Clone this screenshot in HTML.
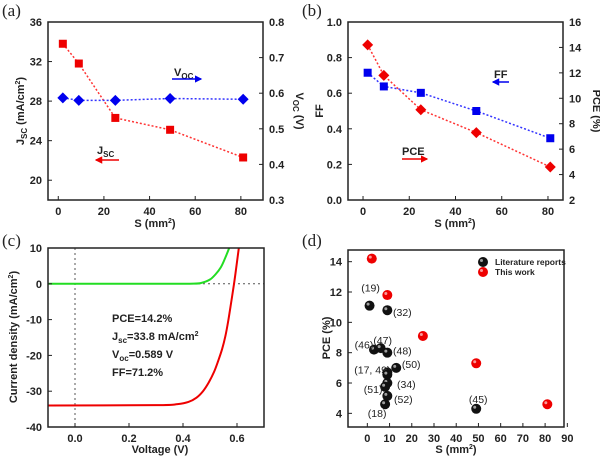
<!DOCTYPE html>
<html><head><meta charset="utf-8"><style>
body{margin:0;background:#fff;width:600px;height:460px;overflow:hidden}
svg{font-family:"Liberation Sans",sans-serif}
.t{font-size:11px;font-weight:bold;fill:#222}
.pl{font-family:"Liberation Serif",serif;font-size:17px;fill:#222}
</style></head><body>
<svg id="s" width="600" height="460">
<defs>
<marker id="ar" viewBox="0 0 6 6" refX="5" refY="3" markerWidth="5" markerHeight="5" orient="auto"><path d="M0,0L6,3L0,6z" fill="#00e"/></marker>
<marker id="arr" viewBox="0 0 6 6" refX="5" refY="3" markerWidth="5" markerHeight="5" orient="auto"><path d="M0,0L6,3L0,6z" fill="#e00"/></marker>
<clipPath id="cc"><rect x="48" y="248" width="216" height="179"/></clipPath>
</defs>
</svg>
<script>
// ---- data ----
const sizes=[2,9,25,49,81];
const jscVals=[33.8,31.8,26.3,25.1,22.3];
const vocVals=[0.587,0.580,0.580,0.585,0.583];
const ffVals=[0.715,0.638,0.602,0.50,0.347];
const pceVals=[14.2,11.8,9.1,7.3,4.6];
const redV=[-0.1,0.3,0.38,0.42,0.45,0.474,0.495,0.515,0.53,0.545,0.557,0.567,0.578,0.589,0.597,0.605,0.612];
const redJ=[-34,-33.9,-33.6,-33,-31.8,-30,-27.6,-24.6,-21.6,-18.2,-14.6,-10.6,-5.4,0,4.4,9,13];
const greenV=[-0.1,0.3,0.44,0.47,0.5,0.52,0.54,0.555,0.571,0.58];
const greenJ=[0,0,0.05,0.3,1.2,2.6,4.6,7,10,12];
const litS=[1,9,3,6,9,13,9,9,9,8,9,8,49];
const litP=[11.1,10.8,8.2,8.3,8.0,7.0,6.7,6.55,6.0,5.75,5.15,4.6,4.3];
const litLab=["(19)","(32)","(46)","(47)","(48)","(50)","(17, 49)","","(34)","(51)","(52)","(18)","(45)"];
const litDx=[1,15,-10,2,15,15,-15,0,19,-12,16,-8,2];
const litDy=[-18,2,-5,-8,-2,-4,-3,0,1,2,3,9,-10];
const tick_a_x=[0,20,40,60,80], tick_a_yl=[20,24,28,32,36], tick_a_yr=[0.3,0.4,0.5,0.6,0.7,0.8];
const tick_b_yl=[0,0.2,0.4,0.6,0.8,1.0], tick_b_yr=[2,4,6,8,10,12,14,16];
const tick_c_x=[0,0.2,0.4,0.6], tick_c_y=[-40,-30,-20,-10,0,10];
const tick_d_x=[0,10,20,30,40,50,60,70,80,90], tick_d_y=[4,6,8,10,12,14];

const S=document.getElementById('s');const NS='http://www.w3.org/2000/svg';
function el(t,a,txt,p){const e=document.createElementNS(NS,t);for(const k in a)e.setAttribute(k,a[k]);if(txt!=null)e.textContent=txt;(p||S).appendChild(e);return e;}
function sc(d0,d1,r0,r1){return v=>r0+(v-d0)/(d1-d0)*(r1-r0);}
function frame(x0,y0,x1,y1,name){const r=el('rect',{x:x0,y:y0,width:x1-x0,height:y1-y0,fill:'none',stroke:'#222','stroke-width':1.5});

}
function xt(ticks,X,y,fmt){ticks.forEach(v=>{const x=X(v);el('line',{x1:x,x2:x,y1:y,y2:y-4,stroke:'#222'});const t=el('text',{x:x,y:y+15,'text-anchor':'middle',class:'t'},fmt?fmt(v):v);

});}
function yt(ticks,Y,x,side,fmt){ticks.forEach(v=>{const y=Y(v);el('line',{x1:x,x2:x+4*side,y1:y,y2:y,stroke:'#222'});const t=el('text',{x:x-6*side,y:y+4,'text-anchor':side>0?'end':'start',class:'t'},fmt?fmt(v):v);

});}
function dline(xs,ys,X,Y,c,name){const p=el('polyline',{points:xs.map((v,i)=>X(v)+','+Y(ys[i])).join(' '),fill:'none',stroke:c,'stroke-width':1.5,'stroke-dasharray':'2,2'});

}
function sq(x,y,c){el('rect',{x:x-4,y:y-4,width:8,height:8,fill:c});}
function dia(x,y,c){el('polygon',{points:`${x},${y-5.5} ${x+5.5},${y} ${x},${y+5.5} ${x-5.5},${y}`,fill:c});}
function lbl(x,y,txt,o){return el('text',Object.assign({x:x,y:y,class:'t'},o||{}),txt);}
// rich text: parts = [[text, shift]] shift: 0 normal, 1 sub, -1 sup
function rich(x,y,parts,o){const t=lbl(x,y,'',o);let cur=0;parts.forEach(([s,sh])=>{const target=sh==1?3:sh==-1?-4:0;const a={dy:target-cur};if(sh)a['font-size']=sh==1?'8px':'7px';el('tspan',a,s,t);cur=target;});return t;}
function arrow(x1,x2,y,c){const a=el('line',{x1:x1,x2:x2,y1:y,y2:y,stroke:c,'stroke-width':1.5,'marker-end':c=='#00e'?'url(#ar)':'url(#arr)'});

}
function smooth(pts){let d='M'+pts[0][0]+','+pts[0][1];for(let i=0;i<pts.length-1;i++){const p0=pts[i-1]||pts[i],p1=pts[i],p2=pts[i+1],p3=pts[i+2]||p2;
d+=` C${p1[0]+(p2[0]-p0[0])/6},${p1[1]+(p2[1]-p0[1])/6} ${p2[0]-(p3[0]-p1[0])/6},${p2[1]-(p3[1]-p1[1])/6} ${p2[0]},${p2[1]}`;}return d;}
const SMM=[['S (mm',0],['2',-1],[')',0]];

// ---- (a) ----
{const X=sc(-4.5,89.7,48,263),YL=sc(18,36,200,22),YR=sc(0.3,0.8,200,22);
lbl(2,16,'(a)',{class:'pl'});
frame(48,22,263,200,'plot-frame-a');
xt(tick_a_x,X,200);yt(tick_a_yl,YL,48,1);yt(tick_a_yr,YR,263,-1,v=>v.toFixed(1));
dline(sizes,jscVals,X,YL,'#f33','jsc-line');dline(sizes,vocVals,X,YR,'#33f','voc-line');
sizes.forEach((s,i)=>{sq(X(s),YL(jscVals[i]),'#e00');dia(X(s),YR(vocVals[i]),'#00e')});
rich(155,227,SMM,{'text-anchor':'middle'});
rich(24,111,[['J',0],['SC',1],[' (mA/cm',0],['2',-1],[')',0]],{transform:'rotate(-90 24 111)','text-anchor':'middle'});
rich(296,111,[['V',0],['OC',1],[' (V)',0]],{transform:'rotate(90 296 111)','text-anchor':'middle'});
rich(174,76,[['V',0],['OC',1]],{fill:'#00e'});arrow(172,201,79,'#00e');
rich(97,154,[['J',0],['SC',1]],{fill:'#e00'});arrow(119,96,160,'#e00');}

// ---- (b) ----
{const X=sc(-6.5,86.5,348,563),YL=sc(0,1,200,22),YR=sc(2,16,200,22);
lbl(302,16,'(b)',{class:'pl'});
frame(348,22,563,200,'plot-frame-b');
xt(tick_a_x,X,200);yt(tick_b_yl,YL,348,1,v=>v.toFixed(1));yt(tick_b_yr,YR,563,-1);
dline(sizes,ffVals,X,YL,'#33f','ff-line');dline(sizes,pceVals,X,YR,'#f33','pce-line');
sizes.forEach((s,i)=>{sq(X(s),YL(ffVals[i]),'#00e');dia(X(s),YR(pceVals[i]),'#e00')});
rich(455,227,SMM,{'text-anchor':'middle'});
lbl(323,111,'FF',{transform:'rotate(-90 323 111)','text-anchor':'middle'});
lbl(593,111,'PCE (%)',{transform:'rotate(90 593 111)','text-anchor':'middle'});
lbl(494,78,'FF',{fill:'#00e'});arrow(509,493,82,'#00e');
lbl(402,155,'PCE',{fill:'#e00'});arrow(402,427,159,'#e00');}

// ---- (c) ----
{const X=sc(-0.1,0.7,48,264),Y=sc(-40,10,427,248);
lbl(2,246,'(c)',{class:'pl'});
el('line',{x1:X(0),x2:X(0),y1:248,y2:427,stroke:'#555','stroke-dasharray':'2,3'});
el('line',{x1:48,x2:264,y1:Y(0),y2:Y(0),stroke:'#555','stroke-dasharray':'2,3'});
const cv=(vs,js,c,n)=>{const p=el('path',{d:smooth(vs.map((v,i)=>[X(v),Y(js[i])])),fill:'none',stroke:c,'stroke-width':2,'clip-path':'url(#cc)'});

};
cv(greenV,greenJ,'#2d2','dark-curve');cv(redV,redJ,'#e00','light-curve');
frame(48,248,264,427,'plot-frame-c');
xt(tick_c_x,X,427,v=>v.toFixed(1));yt(tick_c_y,Y,48,1);
lbl(160,453,'Voltage (V)',{'text-anchor':'middle'});
rich(17,337,[['Current density (mA/cm',0],['2',-1],[')',0]],{transform:'rotate(-90 17 337)','text-anchor':'middle'});
lbl(112,322,'PCE=14.2%');
rich(112,340,[['J',0],['sc',1],['=33.8 mA/cm',0],['2',-1]]);
rich(112,358,[['V',0],['oc',1],['=0.589 V',0]]);
lbl(112,376,'FF=71.2%');}

// ---- (d) ----
{const X=sc(-8.7,88.5,348,564),Y=sc(3.1,14.77,427,250);
lbl(302,246,'(d)',{class:'pl'});
frame(348,250,564,427,'plot-frame-d');
xt(tick_d_x,X,427);yt(tick_d_y,Y,348,1);
const ball=(x,y,c,n)=>{const b=el('circle',{cx:x,cy:y,r:5,fill:c});


el('circle',{cx:x-1.5,cy:y-1.5,r:1.5,fill:'#fff',opacity:0.6});};
litS.forEach((s,i)=>{ball(X(s),Y(litP[i]),'#111','literature-point');if(litLab[i])el('text',{x:X(s)+litDx[i],y:Y(litP[i])+litDy[i]+4,'text-anchor':'middle','font-size':'10.5px',fill:'#222'},litLab[i]);});
sizes.forEach((s,i)=>ball(X(s),Y(pceVals[i]),'#e00','this-work-point'));
ball(483,262,'#111','legend-marker');lbl(495,265,'Literature reports',{style:'font-size:8.5px'});
ball(483,272,'#e00','legend-marker');lbl(495,275,'This work',{fill:'#e00',style:'font-size:8.5px'});
rich(456,453,SMM,{'text-anchor':'middle'});
lbl(330,338,'PCE (%)',{transform:'rotate(-90 330 338)','text-anchor':'middle'});}
</script>
</body></html>
